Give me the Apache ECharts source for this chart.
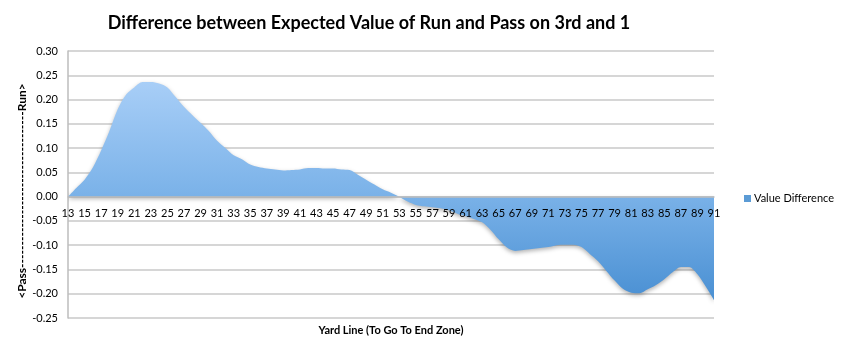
<!DOCTYPE html>
<html>
<head>
<meta charset="utf-8">
<script src="https://cdn.jsdelivr.net/npm/echarts@6/dist/echarts.min.js"></script>
<style>
  html, body { margin: 0; padding: 0; background: #fff; }
  #chart { width: 841px; height: 346px; }
</style>
</head>
<body>
<div id="chart"></div>
<script>
// Yard lines 13..91 (distance to go to the end zone)
const yardLines = [];
for (let y = 13; y <= 91; y++) yardLines.push(String(y));

// Expected value of a run minus expected value of a pass, 3rd and 1
const valueDifference = [
  0.000, 0.018, 0.035, 0.060, 0.095, 0.135, 0.180, 0.210, 0.225, 0.236,
  0.236, 0.233, 0.225, 0.205, 0.185, 0.168, 0.152, 0.135, 0.115, 0.100,
  0.085, 0.077, 0.066, 0.061, 0.058, 0.056, 0.054, 0.055, 0.056, 0.059,
  0.059, 0.058, 0.058, 0.056, 0.055, 0.045, 0.035, 0.025, 0.015, 0.008,
  0.000, -0.010, -0.017, -0.020, -0.022, -0.024, -0.028, -0.035, -0.040, -0.046,
  -0.053, -0.068, -0.088, -0.105, -0.112, -0.110, -0.108, -0.106, -0.104, -0.100,
  -0.099, -0.099, -0.104, -0.118, -0.133, -0.153, -0.173, -0.190, -0.198, -0.199,
  -0.191, -0.182, -0.170, -0.156, -0.145, -0.145, -0.160, -0.185, -0.213
];

const yMin = -0.25;
const yMax = 0.30;
const yStep = 0.05;

const titleText = 'Difference between Expected Value of Run and Pass on 3rd and 1';
const xAxisTitle = 'Yard Line (To Go To End Zone)';
const yAxisTitle = '<Pass-----------------------------------Run>';
const seriesName = 'Value Difference';

const FONT = 'Lato, "Open Sans", sans-serif';

// plot area
const GRID = { left: 68, right: 127, top: 51, bottom: 28 };
const plotHeight = 346 - GRID.top - GRID.bottom;
// lift the category axis from the bottom edge up to the zero line
const zeroLift = plotHeight * (0 - yMin) / (yMax - yMin);

const chart = echarts.init(document.getElementById('chart'), null, { renderer: 'canvas' });
chart.setOption({
  animation: false,
  backgroundColor: '#ffffff',
  title: {
    text: titleText,
    left: 364,
    textAlign: 'center',
    top: 9,
    textStyle: { fontFamily: FONT, fontSize: 18, fontWeight: 'bold', color: '#000' }
  },
  legend: {
    data: [{ name: seriesName, icon: 'rect' }],
    left: 739,
    top: 188,
    itemWidth: 7,
    itemHeight: 7,
    itemGap: 4,
    textStyle: { fontFamily: FONT, fontSize: 11, color: '#000', padding: [0, 0, 0, -2] }
  },
  graphic: [
    {
      // horizontal axis title
      type: 'text',
      x: 391, y: 330,
      style: {
        text: xAxisTitle,
        font: 'bold 11px ' + FONT,
        fill: '#000',
        textAlign: 'center',
        textVerticalAlign: 'middle'
      }
    },
    {
      // vertical axis title, reading bottom to top
      type: 'text',
      x: 22, y: 191,
      rotation: Math.PI / 2,
      style: {
        text: yAxisTitle,
        font: 'bold 12px ' + FONT,
        fill: '#000',
        textAlign: 'center',
        textVerticalAlign: 'middle'
      }
    }
  ],
  grid: Object.assign({ containLabel: false, outerBoundsMode: 'none' }, GRID),
  xAxis: {
    type: 'category',
    data: yardLines,
    boundaryGap: false,
    offset: -zeroLift,
    z: 10,
    axisLine: { onZero: false, lineStyle: { color: '#bdbdbd', width: 1.5 } },
    axisTick: { show: false },
    axisLabel: { interval: 1, fontFamily: FONT, fontSize: 11, color: '#000', margin: 11 },
    splitLine: { show: false }
  },
  yAxis: {
    type: 'value',
    min: yMin,
    max: yMax,
    interval: yStep,
    axisLine: { show: true, onZero: false, lineStyle: { color: '#bdbdbd', width: 1.5 } },
    axisTick: { show: false },
    axisLabel: {
      fontFamily: FONT, fontSize: 11, color: '#000', margin: 10,
      formatter: v => v.toFixed(2)
    },
    splitLine: { show: true, lineStyle: { color: '#c8c8c8', width: 1.5 } }
  },
  series: [{
    name: seriesName,
    type: 'line',
    data: valueDifference,
    smooth: 0.3,
    symbol: 'none',
    lineStyle: { width: 0 },
    itemStyle: { color: '#5b9bd5' },
    areaStyle: {
      origin: 0,
      opacity: 1,
      color: {
        type: 'linear', x: 0, y: 0, x2: 0, y2: 1,
        colorStops: [
          { offset: 0, color: '#a8cef7' },
          { offset: 0.5, color: '#7cb3e9' },
          { offset: 1, color: '#4a90d3' }
        ]
      },
      shadowColor: 'rgba(0,0,0,0.3)',
      shadowBlur: 4,
      shadowOffsetY: 2
    }
  }]
});
</script>
</body>
</html>
